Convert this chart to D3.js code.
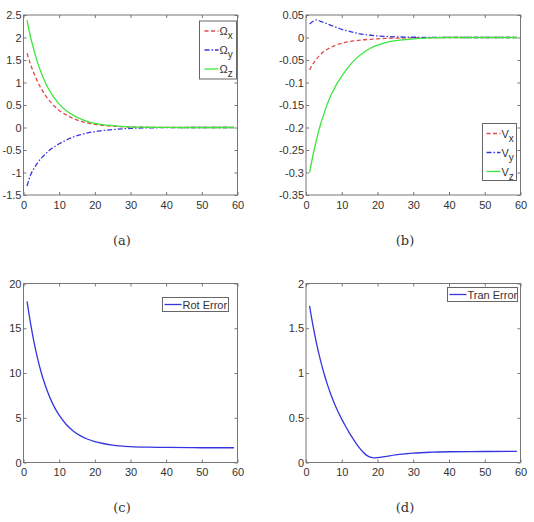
<!DOCTYPE html>
<html><head><meta charset="utf-8">
<script src="https://cdn.jsdelivr.net/npm/d3@7"></script>
<style>body{margin:0;background:#fff}svg{display:block}</style>
</head><body>
<script>
// ---- data ----
const xs = [1,2,3,4,5,6,7,8,9,10,12,14,16,18,20,22,25,30,35,40,50,59];
const omegaX = [1.65,1.40,1.19,1.01,0.86,0.73,0.62,0.53,0.45,0.38,0.28,0.20,0.14,0.10,0.07,0.05,0.03,0.01,0.004,0.001,0,0];
const omegaY = [-1.30,-1.05,-0.90,-0.78,-0.68,-0.60,-0.52,-0.46,-0.41,-0.36,-0.28,-0.21,-0.16,-0.12,-0.09,-0.07,-0.045,-0.02,-0.008,-0.003,0,0];
const omegaZ = [2.38,2.00,1.70,1.43,1.21,1.02,0.86,0.73,0.62,0.52,0.37,0.27,0.19,0.13,0.09,0.065,0.04,0.015,0.006,0.002,0,0];
const vX = [-0.072,-0.058,-0.047,-0.038,-0.031,-0.026,-0.022,-0.018,-0.015,-0.013,-0.009,-0.007,-0.005,-0.004,-0.003,-0.002,-0.0015,-0.0007,-0.0003,0,0,0];
const vY = [0.030,0.036,0.039,0.036,0.033,0.030,0.027,0.024,0.021,0.018,0.014,0.010,0.007,0.005,0.0035,0.0025,0.0015,0.0006,0.0002,0.0001,0,0];
const vZ = [-0.300,-0.260,-0.225,-0.195,-0.170,-0.147,-0.128,-0.112,-0.098,-0.086,-0.064,-0.047,-0.034,-0.024,-0.017,-0.012,-0.007,-0.003,-0.001,0,0,0];
const rotError = [18.0,15.5,13.35,11.55,10.0,8.74,7.65,6.72,5.94,5.3,4.25,3.5,2.98,2.6,2.34,2.15,1.95,1.78,1.71,1.68,1.65,1.65];
const xsTran = [1,2,3,4,5,6,7,8,9,10,11,12,13,14,15,16,17,18,19,20,22,25,28,30,35,40,50,59];
const tranError = [1.75,1.52,1.32,1.15,1.00,0.87,0.755,0.655,0.565,0.485,0.41,0.34,0.275,0.215,0.16,0.115,0.08,0.06,0.052,0.054,0.065,0.085,0.098,0.105,0.115,0.12,0.123,0.125];
const xTicks = [0,10,20,30,40,50,60];
const yTicksA = [-1.5,-1,-0.5,0,0.5,1,1.5,2,2.5];
const yTicksB = [-0.35,-0.3,-0.25,-0.2,-0.15,-0.1,-0.05,0,0.05];
const yTicksC = [0,5,10,15,20];
const yTicksD = [0,0.5,1,1.5,2];
const captions = ["(a)","(b)","(c)","(d)"];

const RED="#e4474b", BLUE="#3535e0", GREEN="#3ee63e";
const DASH="4,2.5", DASHDOT="5,2,1.5,2";

const svg = d3.select("body").append("svg").attr("width",534).attr("height",522);
const FONT = "Arial, 'Liberation Sans', Helvetica, sans-serif";

function panel(o){
  const g = svg.append("g");
  const x = d3.scaleLinear().domain([0,60]).range([o.l,o.r]);
  const y = d3.scaleLinear().domain(o.ydom).range([o.b,o.t]);
  const cid = "clip"+o.id;
  svg.append("clipPath").attr("id",cid).append("rect")
    .attr("x",o.l).attr("y",o.t).attr("width",o.r-o.l).attr("height",o.b-o.t);
  o.series.forEach(s=>{
    const line = d3.line().x((d,i)=>x(s.x[i])).y(d=>y(d)).curve(d3.curveMonotoneX);
    g.append("path").attr("clip-path",`url(#${cid})`).attr("d",line(s.v))
      .attr("fill","none").attr("stroke",s.c).attr("stroke-width",1.3)
      .attr("stroke-dasharray",s.dash||null);
  });
  const tl=3;
  const ax = g.append("g").attr("color","#777");
  ax.append("g").attr("transform",`translate(0,${o.b})`)
    .call(d3.axisBottom(x).tickValues(xTicks).tickSizeInner(-tl).tickSizeOuter(0).tickPadding(6).tickFormat(d3.format("d")));
  ax.append("g").attr("transform",`translate(0,${o.t})`)
    .call(d3.axisTop(x).tickValues(xTicks).tickSizeInner(-tl).tickSizeOuter(0).tickFormat(""));
  ax.append("g").attr("transform",`translate(${o.l},0)`)
    .call(d3.axisLeft(y).tickValues(o.yt).tickSizeInner(-tl).tickSizeOuter(0).tickPadding(2).tickFormat(d=>String(+d.toFixed(2))));
  ax.append("g").attr("transform",`translate(${o.r},0)`)
    .call(d3.axisRight(y).tickValues(o.yt).tickSizeInner(-tl).tickSizeOuter(0).tickFormat(""));
  ax.selectAll(".domain").remove();
  ax.selectAll("text").attr("fill","#333").style("font-family",FONT).style("font-size","11px");
  g.append("rect").attr("x",o.l).attr("y",o.t).attr("width",o.r-o.l).attr("height",o.b-o.t)
    .attr("fill","none").attr("stroke","#777").attr("stroke-width",1);
  const L=o.leg;
  const lg = g.append("g");
  lg.append("rect").attr("x",L.x).attr("y",L.y).attr("width",L.w).attr("height",L.h)
    .attr("fill","#fff").attr("stroke","#666").attr("stroke-width",1);
  o.series.forEach((s,i)=>{
    const yy = L.y + L.first + i*L.step;
    lg.append("line").attr("x1",L.x+L.lx0).attr("x2",L.x+L.lx1).attr("y1",yy).attr("y2",yy)
      .attr("stroke",s.c).attr("stroke-width",1.3).attr("stroke-dasharray",s.dash||null);
    const t = lg.append("text").attr("x",L.x+L.lx1+1).attr("y",yy+4)
      .attr("fill","#333").style("font-family",FONT).style("font-size","11px");
    t.append("tspan").text(s.name);
    if(s.sub) t.append("tspan").attr("dy",4).style("font-size","10px").text(s.sub);
  });
  svg.append("text").attr("x",o.cap[0]).attr("y",o.cap[1]).attr("text-anchor","middle")
    .attr("fill","#333").style("font-family","'DejaVu Serif','Liberation Serif',serif").style("font-size","13px")
    .text(o.caption);
}

panel({id:"a",l:23.5,r:237.5,t:15,b:195,ydom:[-1.5,2.5],yt:yTicksA,caption:captions[0],cap:[122,245],
  series:[{name:"Ω",sub:"x",x:xs,v:omegaX,c:RED,dash:DASH},{name:"Ω",sub:"y",x:xs,v:omegaY,c:BLUE,dash:DASHDOT},{name:"Ω",sub:"z",x:xs,v:omegaZ,c:GREEN}],
  leg:{x:199.5,y:21,w:37,h:58,first:10,step:19,lx0:5,lx1:19}});
panel({id:"b",l:306,r:520.5,t:15,b:195,ydom:[-0.35,0.05],yt:yTicksB,caption:captions[1],cap:[405,245],
  series:[{name:"V",sub:"x",x:xs,v:vX,c:RED,dash:DASH},{name:"V",sub:"y",x:xs,v:vY,c:BLUE,dash:DASHDOT},{name:"V",sub:"z",x:xs,v:vZ,c:GREEN}],
  leg:{x:482.5,y:123.5,w:34,h:57,first:10,step:19,lx0:4,lx1:18}});
panel({id:"c",l:23.5,r:237.5,t:283.5,b:462.5,ydom:[0,20],yt:yTicksC,caption:captions[2],cap:[122,512],
  series:[{name:"Rot Error",x:xs,v:rotError,c:BLUE}],
  leg:{x:162.5,y:297.5,w:66,h:14,first:7,step:0,lx0:2,lx1:19}});
panel({id:"d",l:306,r:520.5,t:283.5,b:462.5,ydom:[0,2],yt:yTicksD,caption:captions[3],cap:[405,512],
  series:[{name:"Tran Error",x:xsTran,v:tranError,c:BLUE}],
  leg:{x:447.5,y:287.5,w:70,h:14,first:7,step:0,lx0:2,lx1:19}});
</script>
</body></html>
